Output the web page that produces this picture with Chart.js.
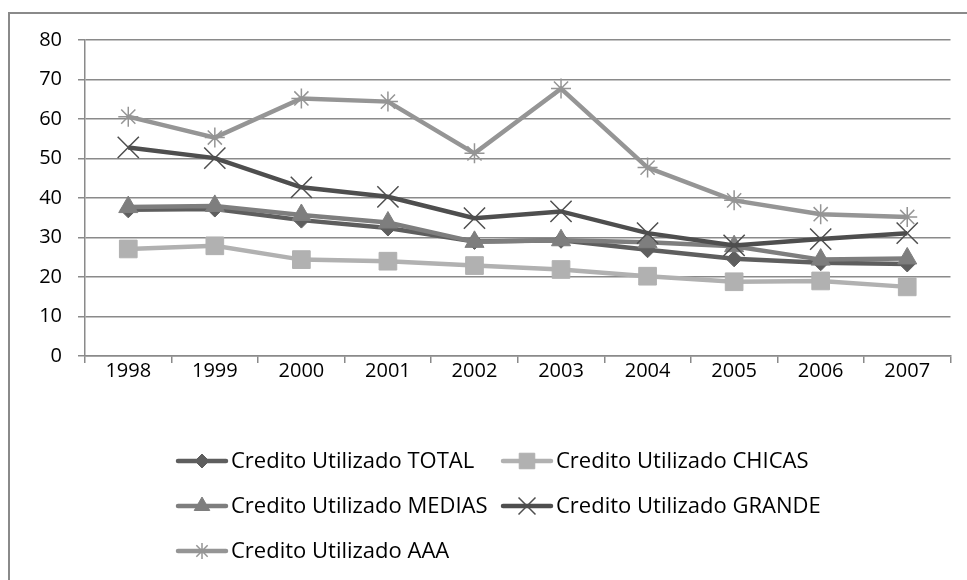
<!DOCTYPE html>
<html>
<head>
<meta charset="utf-8">
<script src="https://cdn.jsdelivr.net/npm/chart.js@4.4.1/dist/chart.umd.min.js"></script>
<style>
html,body{margin:0;padding:0;background:#fff;overflow:hidden;}
#wrap{position:relative;width:967px;height:580px;overflow:hidden;}
#frame{position:absolute;left:8px;top:12px;width:980px;height:600px;border:2px solid #8a8a8a;box-sizing:border-box;}
canvas{position:absolute;left:0;top:0;}
</style>
</head>
<body>
<div id="wrap"><div id="frame"></div><canvas id="c" width="967" height="580"></canvas></div>
<script>
const years = ['1998','1999','2000','2001','2002','2003','2004','2005','2006','2007'];
const seriesNames = ['Credito Utilizado TOTAL','Credito Utilizado CHICAS','Credito Utilizado MEDIAS','Credito Utilizado GRANDE','Credito Utilizado AAA'];
const total  = [37.0, 37.2, 34.4, 32.4, 29.0, 29.3, 26.9, 24.6, 23.6, 23.3];
const chicas = [27.1, 27.9, 24.4, 24.0, 22.9, 21.9, 20.2, 18.8, 19.0, 17.5];
const medias = [37.7, 38.0, 35.7, 33.8, 28.9, 29.3, 28.8, 27.8, 24.4, 24.7];
const grande = [52.8, 50.1, 42.7, 40.3, 34.9, 36.6, 31.1, 28.0, 29.6, 31.1];
const aaa    = [60.6, 55.3, 65.2, 64.4, 51.3, 67.7, 47.7, 39.4, 35.9, 35.2];

const colTotal='#5e5e5e', colChicas='#b1b1b1', colMedias='#7e7e7e', colGrande='#4e4e4e', colAAA='#959595';
const FONT = "'Open Sans', Lato, sans-serif";

function ds(label, data, color, style, radius, legendRadius, filled, order){
  return {label, data, order, borderColor: color, backgroundColor: color,
    borderWidth: 4.5, tension: 0, pointStyle: style, pointRadius: radius, pointHoverRadius: radius,
    pointBackgroundColor: filled ? color : 'rgba(0,0,0,0)', pointBorderColor: color,
    pointBorderWidth: filled ? 1 : 1.5, legendRadius};
}
const datasets = [
  ds(seriesNames[0], total, colTotal, 'rectRot', 8, 7, true, 4),
  ds(seriesNames[1], chicas, colChicas, 'rect', 12.5, 11, true, 3),
  ds(seriesNames[2], medias, colMedias, 'triangle', 11, 9, true, 2),
  ds(seriesNames[3], grande, colGrande, 'crossRot', 15, 12, false, 1),
  ds(seriesNames[4], aaa, colAAA, 'star', 10, 8, false, 0)
];
const legendLayout = [
  {x:176, y:461},{x:501, y:461},
  {x:176, y:506},{x:501, y:506},
  {x:176, y:551}
];
const customLegend = {
  id:'customLegend',
  afterDraw(chart){
    const ctx = chart.ctx;
    ctx.save();
    chart.data.datasets.forEach((d,i)=>{
      const p = legendLayout[i];
      ctx.strokeStyle = d.borderColor; ctx.lineWidth = 4.5; ctx.lineCap='round';
      ctx.beginPath(); ctx.moveTo(p.x+2, p.y); ctx.lineTo(p.x+50, p.y); ctx.stroke();
      ctx.lineCap='butt';
      ctx.fillStyle = d.pointBackgroundColor; ctx.strokeStyle = d.pointBorderColor;
      ctx.lineWidth = d.pointBorderWidth;
      Chart.helpers.drawPoint(ctx, {pointStyle: d.pointStyle, rotation:0, radius: d.legendRadius, borderWidth: d.pointBorderWidth}, p.x+26, p.y);
      ctx.fillStyle = '#000'; ctx.font = "22px " + FONT; ctx.textBaseline='middle'; ctx.textAlign='left';
      ctx.fillText(d.label, p.x+55, p.y+1);
    });
    ctx.restore();
  }
};

new Chart(document.getElementById('c'), {
  type:'line',
  data:{labels: years, datasets},
  options:{
    responsive:false, animation:false, devicePixelRatio:1,
    layout:{padding:{left:0, top:40, right:14, bottom:184}},
    plugins:{legend:{display:false}, tooltip:{enabled:false}},
    scales:{
      x:{offset:true,
        grid:{display:true, drawOnChartArea:false, drawTicks:true, tickLength:7, color:'#8a8a8a', lineWidth:1.5, offset:true},
        border:{display:true, color:'#8a8a8a', width:1.5},
        ticks:{color:'#000', font:{family:FONT, size:20}, padding:-4},
        afterFit(s){ s.height = 40; }
      },
      y:{min:0, max:80,
        grid:{color:'#8a8a8a', lineWidth:1.5, tickLength:7, drawTicks:true},
        border:{display:true, color:'#8a8a8a', width:1.5},
        ticks:{stepSize:10, color:'#000', font:{family:FONT, size:20}, padding:16},
        afterFit(s){ s.width = 85; }
      }
    }
  },
  plugins:[customLegend]
});
</script>
</body>
</html>
